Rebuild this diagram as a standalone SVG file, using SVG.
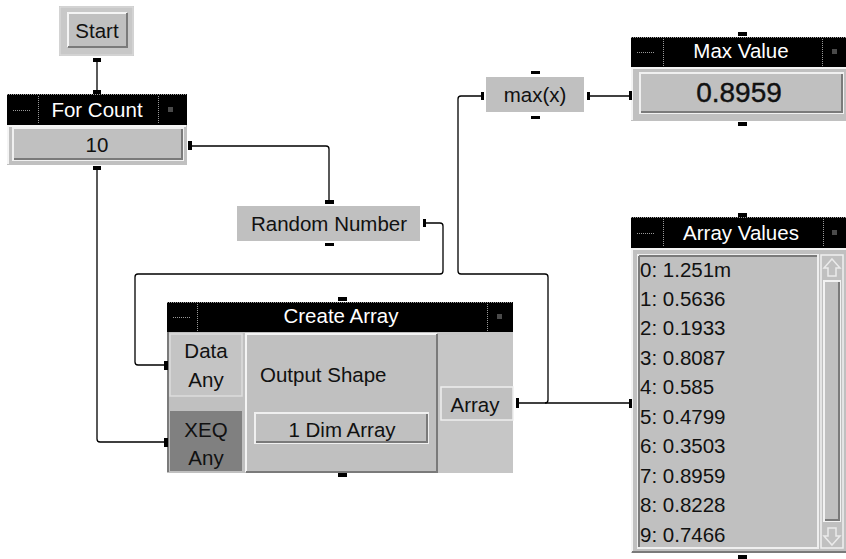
<svg xmlns="http://www.w3.org/2000/svg" width="846" height="559" viewBox="0 0 846 559">
  <style>
    text { font-family: "Liberation Sans", Arial, sans-serif; font-size: 20.5px; fill: #111; }
    .title { fill: #fff; text-anchor: middle; }
    .mid { text-anchor: middle; }
    .big { font-size: 28px; stroke: #111; stroke-width: 0.4; }
    .bar { fill: #000; }
    .dots { stroke: #9a9a9a; stroke-width: 1; stroke-dasharray: 1 1; fill: none; }
    .body { fill: #c0c0c0; }
    .hi { stroke: #f4f4f4; stroke-width: 2; fill: none; }
    .lo { stroke: #7a7a7a; stroke-width: 2; fill: none; }
    .pin { fill: #000; }
    .wire { fill: none; stroke: #000; stroke-width: 1.3; }
    .grip { fill: #4a4a4a; }
  </style>

  <!-- wires between the objects -->
  <g id="connectors">
    <path class="wire" d="M97,62 V91"/>
    <path class="wire" d="M191,146 H326 Q329,146 329,149 V201"/>
    <path class="wire" d="M97,170 V439 Q97,442 100,442 H164"/>
    <path class="wire" d="M426,223 H440 Q443,223 443,226 V271 Q443,274 440,274 H138 Q135,274 135,277 V362 Q135,365 138,365 H164"/>
    <path class="wire" d="M519,403 H630"/>
    <path class="wire" d="M545,403 Q548,403 548,400 V277 Q548,274 545,274 H461 Q458,274 458,271 V99 Q458,96 461,96 H481"/>
    <path class="wire" d="M590,96 H630"/>
  </g>

  <!-- Start button -->
  <g id="start">
    <rect x="59" y="6" width="75" height="50" fill="#c8c8c8"/>
    <rect x="60" y="7" width="73" height="48" fill="none" stroke="#dedede" stroke-width="1"/>
    <rect x="67" y="12" width="61" height="36" class="body"/>
    <path class="hi" d="M68,47 V13 H127"/>
    <path class="lo" d="M68,47 H127 V13"/>
    <text x="97" y="38" class="mid">Start</text>
    <rect class="pin" x="93" y="58" width="8" height="4"/>
  </g>

  <!-- For Count -->
  <g id="for-count">
    <rect class="bar" x="7" y="94" width="180" height="31"/>
    <line class="dots" x1="7" y1="94.5" x2="187" y2="94.5"/>
    <line class="dots" x1="38.5" y1="96" x2="38.5" y2="124"/>
    <line class="dots" x1="158.5" y1="96" x2="158.5" y2="124"/>
    <line class="dots" x1="13" y1="110.5" x2="31" y2="110.5"/>
    <rect class="grip" x="168" y="107" width="5" height="5"/>
    <text x="97" y="117" class="title">For Count</text>
    <rect class="body" x="7" y="125" width="180" height="40"/>
    <path class="hi" d="M8,164 V126 H186"/>
    <rect x="13" y="128" width="170" height="32" fill="#c0c0c0" stroke="#f0f0f0" stroke-width="2"/>
    <path class="lo" d="M14,159 H182 V129"/>
    <text x="97" y="152" class="mid">10</text>
    <rect class="pin" x="93" y="90" width="8" height="4"/>
    <rect class="pin" x="188" y="141" width="4" height="9"/>
    <rect class="pin" x="93" y="166" width="8" height="4"/>
  </g>

  <!-- Random Number -->
  <g id="random-number">
    <rect class="body" x="237" y="206" width="183" height="35"/>
    <text x="329" y="231" class="mid">Random Number</text>
    <rect class="pin" x="325" y="200" width="9" height="4"/>
    <rect class="pin" x="325" y="243" width="9" height="3"/>
    <rect class="pin" x="423" y="219" width="3" height="8"/>
  </g>

  <!-- max(x) -->
  <g id="max-x">
    <rect class="body" x="486" y="77" width="98" height="35"/>
    <text x="535" y="102" class="mid">max(x)</text>
    <rect class="pin" x="531" y="71" width="9" height="3"/>
    <rect class="pin" x="531" y="116" width="9" height="3"/>
    <rect class="pin" x="481" y="92" width="3" height="8"/>
    <rect class="pin" x="587" y="92" width="3" height="8"/>
  </g>

  <!-- Max Value -->
  <g id="max-value">
    <rect class="bar" x="631" y="37" width="215" height="30"/>
    <line class="dots" x1="631" y1="37.5" x2="846" y2="37.5"/>
    <line class="dots" x1="663.5" y1="39" x2="663.5" y2="66"/>
    <line class="dots" x1="822.5" y1="39" x2="822.5" y2="66"/>
    <line class="dots" x1="637" y1="52.5" x2="655" y2="52.5"/>
    <rect class="grip" x="832" y="49" width="5" height="5"/>
    <text x="741" y="58" class="title">Max Value</text>
    <rect class="body" x="631" y="67" width="215" height="54"/>
    <path class="hi" d="M632,120 V68 H846"/>
    <rect x="640" y="73" width="203" height="40" fill="#c0c0c0" stroke="#f0f0f0" stroke-width="2"/>
    <path class="lo" d="M641,112 H842 V74"/>
    <text x="739" y="102" class="mid big">0.8959</text>
    <rect class="pin" x="738" y="32" width="9" height="4"/>
    <rect class="pin" x="629" y="91" width="3" height="9"/>
    <rect class="pin" x="738" y="122" width="9" height="4"/>
  </g>

  <!-- Array Values -->
  <g id="array-values">
    <rect class="bar" x="631" y="217" width="215" height="31"/>
    <line class="dots" x1="631" y1="217.5" x2="846" y2="217.5"/>
    <line class="dots" x1="663.5" y1="219" x2="663.5" y2="247"/>
    <line class="dots" x1="823.5" y1="219" x2="823.5" y2="247"/>
    <line class="dots" x1="637" y1="233.5" x2="655" y2="233.5"/>
    <rect class="grip" x="832" y="230" width="5" height="5"/>
    <text x="741" y="240" class="title">Array Values</text>
    <rect class="body" x="631" y="248" width="215" height="305"/>
    <path class="hi" d="M632,552 V249 H846"/>
    <path class="lo" d="M632,552 H846"/>
    <rect x="638" y="255" width="180" height="293" fill="#c0c0c0" stroke="#efefef" stroke-width="2"/>
    <path class="lo" d="M639,256 H817 M639,256 V547"/>
    <!-- scroll bar -->
    <rect x="821" y="255" width="22" height="293" fill="#c0c0c0" stroke="#efefef" stroke-width="1.5"/>
    <path d="M832,259 L840,268 H836 V276 H828 V268 H824 Z" fill="none" stroke="#eaeaea" stroke-width="1.5"/>
    <rect x="824" y="281" width="16" height="240" fill="#c0c0c0" stroke="#f2f2f2" stroke-width="2"/>
    <path class="lo" d="M825,520 H839 V282"/>
    <path d="M832,545 L840,536 H836 V528 H828 V536 H824 Z" fill="none" stroke="#eaeaea" stroke-width="1.5"/>
    <text x="640" y="277">0: 1.251m</text>
    <text x="640" y="306">1: 0.5636</text>
    <text x="640" y="335">2: 0.1933</text>
    <text x="640" y="365">3: 0.8087</text>
    <text x="640" y="394">4: 0.585</text>
    <text x="640" y="424">5: 0.4799</text>
    <text x="640" y="453">6: 0.3503</text>
    <text x="640" y="483">7: 0.8959</text>
    <text x="640" y="512">8: 0.8228</text>
    <text x="640" y="542">9: 0.7466</text>
    <rect class="pin" x="738" y="213" width="9" height="4"/>
    <rect class="pin" x="629" y="399" width="3" height="9"/>
    <rect class="pin" x="738" y="555" width="9" height="4"/>
  </g>

  <!-- Create Array -->
  <g id="create-array">
    <rect class="bar" x="167" y="302" width="346" height="30"/>
    <line class="dots" x1="167" y1="302.5" x2="513" y2="302.5"/>
    <line class="dots" x1="197.5" y1="304" x2="197.5" y2="331"/>
    <line class="dots" x1="487.5" y1="304" x2="487.5" y2="331"/>
    <line class="dots" x1="173" y1="317.5" x2="191" y2="317.5"/>
    <rect class="grip" x="497" y="314" width="5" height="5"/>
    <text x="341" y="323" class="title">Create Array</text>
    <rect class="body" x="167" y="332" width="346" height="141"/>
    <rect x="438" y="332" width="75" height="141" fill="#c6c6c6"/>
    <path class="lo" d="M168,332 V472"/>
    <!-- Data / XEQ inputs -->
    <rect x="170" y="334" width="72" height="62" fill="#c4c4c4" stroke="#dcdcdc" stroke-width="1.5"/>
    <text x="206" y="358" class="mid">Data</text>
    <text x="206" y="387" class="mid">Any</text>
    <rect x="170" y="411" width="72" height="60" fill="#808080"/>
    <text x="206" y="437" class="mid">XEQ</text>
    <text x="206" y="465" class="mid">Any</text>
    <!-- Output Shape panel -->
    <rect x="245" y="333" width="193" height="140" class="body"/>
    <path class="hi" d="M246,472 V334 H437"/>
    <path class="lo" d="M246,472 H437 V334"/>
    <text x="260" y="382">Output Shape</text>
    <rect x="255" y="413" width="173" height="30" fill="#c0c0c0" stroke="#f0f0f0" stroke-width="2"/>
    <path class="lo" d="M256,442 H427 V414"/>
    <text x="342" y="437" class="mid">1 Dim Array</text>
    <!-- output terminal -->
    <rect x="441" y="387" width="72" height="33" fill="#c0c0c0" stroke="#eeeeee" stroke-width="1.5"/>
    <text x="475" y="412" class="mid">Array</text>
    <rect class="pin" x="338" y="297" width="9" height="4"/>
    <rect class="pin" x="338" y="473" width="9" height="4"/>
    <rect class="pin" x="164" y="361" width="4" height="9"/>
    <rect class="pin" x="164" y="438" width="4" height="9"/>
    <rect class="pin" x="516" y="398" width="3" height="10"/>
  </g>
</svg>
